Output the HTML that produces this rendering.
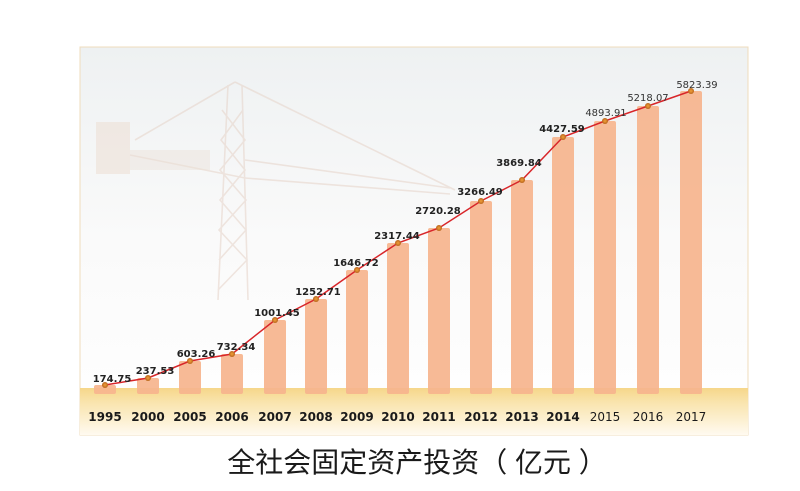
<!DOCTYPE html>
<html><head><meta charset="utf-8"><style>
html,body{margin:0;padding:0;background:#fff;}
svg{display:block;}
</style></head><body>
<svg width="800" height="491" viewBox="0 0 800 491" xmlns="http://www.w3.org/2000/svg">
<defs>
<linearGradient id="sky" x1="0" y1="0" x2="0" y2="1">
<stop offset="0" stop-color="#eef1f2"/><stop offset="0.5" stop-color="#fafafa"/><stop offset="1" stop-color="#ffffff"/>
</linearGradient>
<linearGradient id="band" x1="0" y1="0" x2="0" y2="1">
<stop offset="0" stop-color="#f6d68a"/><stop offset="0.3" stop-color="#f9e4ad"/><stop offset="1" stop-color="#fffaf0"/>
</linearGradient>
<radialGradient id="mk"><stop offset="0" stop-color="#f3a23a"/><stop offset="1" stop-color="#b8641c"/></radialGradient>
</defs>
<rect x="80" y="47" width="668" height="388" fill="url(#sky)" stroke="#efdcbc" stroke-width="1"/>
<g stroke="#e6d3c8" stroke-width="1.6" fill="none" opacity="0.55">
<line x1="228" y1="85" x2="218" y2="300"/><line x1="242" y1="85" x2="248" y2="300"/>
<path d="M222 110 L245 140 L220 170 L246 200 L219 230 L247 260 L218 290"/>
<path d="M243 110 L221 140 L245 170 L220 200 L246 230 L219 260"/>
<line x1="235" y1="82" x2="135" y2="140"/><line x1="235" y1="82" x2="455" y2="190"/>
<line x1="130" y1="155" x2="245" y2="178"/><line x1="245" y1="160" x2="450" y2="188"/><line x1="245" y1="178" x2="450" y2="194"/>
</g>
<rect x="96" y="122" width="34" height="52" fill="#ebdcd0" opacity="0.5"/>
<rect x="130" y="150" width="80" height="20" fill="#eadfd8" opacity="0.45"/>
<rect x="80" y="388" width="668" height="47" fill="url(#band)"/>
<g fill="#f7b58e" opacity="0.92">
<rect x="94" y="385" width="22" height="9" rx="2"/>
<rect x="137" y="378" width="22" height="16" rx="2"/>
<rect x="179" y="361" width="22" height="33" rx="2"/>
<rect x="221" y="354" width="22" height="40" rx="2"/>
<rect x="264" y="320" width="22" height="74" rx="2"/>
<rect x="305" y="299" width="22" height="95" rx="2"/>
<rect x="346" y="270" width="22" height="124" rx="2"/>
<rect x="387" y="243" width="22" height="151" rx="2"/>
<rect x="428" y="228" width="22" height="166" rx="2"/>
<rect x="470" y="201" width="22" height="193" rx="2"/>
<rect x="511" y="180" width="22" height="214" rx="2"/>
<rect x="552" y="137" width="22" height="257" rx="2"/>
<rect x="594" y="121" width="22" height="273" rx="2"/>
<rect x="637" y="106" width="22" height="288" rx="2"/>
<rect x="680" y="91" width="22" height="303" rx="2"/>
</g>
<polyline fill="none" stroke="#d8262a" stroke-width="1.5" points="105,385 148,378 190,361 232,354 275,320 316,299 357,270 398,243 439,228 481,201 522,180 563,137 605,121 648,106 691,91"/>
<g fill="url(#mk)">
<circle cx="105" cy="385" r="3"/><circle cx="148" cy="378" r="3"/><circle cx="190" cy="361" r="3"/><circle cx="232" cy="354" r="3"/><circle cx="275" cy="320" r="3"/><circle cx="316" cy="299" r="3"/><circle cx="357" cy="270" r="3"/><circle cx="398" cy="243" r="3"/><circle cx="439" cy="228" r="3"/><circle cx="481" cy="201" r="3"/><circle cx="522" cy="180" r="3"/><circle cx="563" cy="137" r="3"/><circle cx="605" cy="121" r="3"/><circle cx="648" cy="106" r="3"/><circle cx="691" cy="91" r="3"/>
</g>
<g font-family="'DejaVu Sans','Liberation Sans',sans-serif" font-size="10" font-weight="bold" fill="#222" text-anchor="middle">
<text x="112" y="382">174.75</text><text x="155" y="374">237.53</text><text x="196" y="357">603.26</text><text x="236" y="350">732.34</text>
<text x="277" y="316">1001.45</text><text x="318" y="295">1252.71</text><text x="356" y="266">1646.72</text><text x="397" y="239">2317.44</text>
<text x="438" y="214">2720.28</text><text x="480" y="195">3266.49</text><text x="519" y="166">3869.84</text><text x="562" y="132">4427.59</text>
</g>
<g font-family="'DejaVu Sans','Liberation Sans',sans-serif" font-size="10" fill="#333" text-anchor="middle">
<text x="606" y="116">4893.91</text><text x="648" y="101">5218.07</text><text x="697" y="88">5823.39</text>
</g>
<g font-family="'DejaVu Sans','Liberation Sans',sans-serif" font-size="12" font-weight="bold" fill="#1a1a1a" text-anchor="middle">
<text x="105" y="421">1995</text><text x="148" y="421">2000</text><text x="190" y="421">2005</text><text x="232" y="421">2006</text><text x="275" y="421">2007</text><text x="316" y="421">2008</text><text x="357" y="421">2009</text><text x="398" y="421">2010</text><text x="439" y="421">2011</text><text x="481" y="421">2012</text><text x="522" y="421">2013</text><text x="563" y="421">2014</text>
</g>
<g font-family="'DejaVu Sans','Liberation Sans',sans-serif" font-size="12" fill="#1a1a1a" text-anchor="middle">
<text x="605" y="421">2015</text><text x="648" y="421">2016</text><text x="691" y="421">2017</text>
</g>
<text x="417" y="472" text-anchor="middle" font-family="'Liberation Sans','Noto Sans CJK SC',sans-serif" font-size="28" fill="#1a1a1a" xml:space="preserve">全社会固定资产投资（ 亿元 ）</text>
</svg>
</body></html>
